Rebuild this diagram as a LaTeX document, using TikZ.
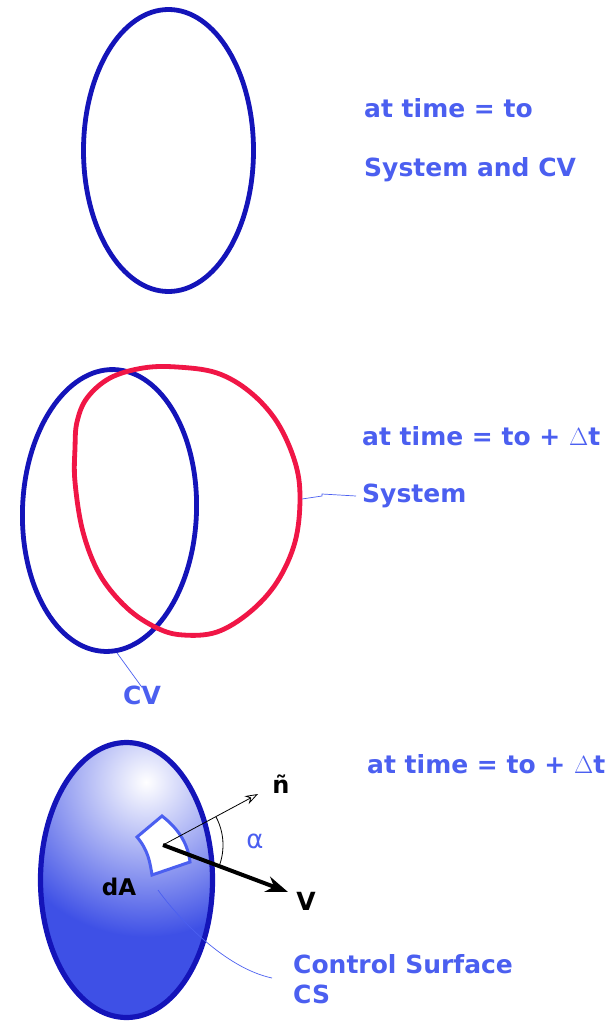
\documentclass[tikz,border=0pt]{standalone}
\usepackage{fontspec}
\setmainfont{DejaVu Sans}
\usetikzlibrary{arrows.meta,positioning,calc,shapes.geometric}
\definecolor{cvblue}{RGB}{20,20,185}
\definecolor{sysred}{RGB}{240,22,70}
\definecolor{lblblue}{RGB}{75,95,240}
\definecolor{fillblue}{RGB}{62,80,230}

\begin{document}
\begin{tikzpicture}[x=1pt, y=-1pt,
    bound/.style={ellipse, draw=cvblue, line width=4.8pt, inner sep=0pt, minimum width=170pt, minimum height=282pt},
    lbl/.style={text=lblblue, font=\bfseries\fontsize{25}{30}\selectfont, inner sep=0pt},
    vec/.style={text=black, font=\bfseries\fontsize{23}{28}\selectfont, inner sep=0pt},
    lead/.style={draw=lblblue, line width=0.7pt}
]
\useasboundingbox (0,0) rectangle (614,1025);

% t = to
\node[bound] (sc0) at (168.5,150.5) {};
\node[lbl, anchor=west] (t0) at (364,108) {at time = to};
\node[lbl, below=62pt of t0.west, anchor=west] (both) {System and CV};

% t = to + dt
\node[bound, minimum width=174pt, minimum height=282pt, rotate=-2] (cv) at (109.5,510.5) {};
\draw[sysred, line width=4.8pt] plot[smooth cycle, tension=0.6] coordinates {
    (77,422) (87,398) (110,378) (143,368) (177,367) (217,373) (250,392)
    (277,422) (295,462) (300,498) (295,542) (277,582) (250,612) (217,632)
    (183,635) (157,628) (127,608) (100,575) (83,532) (75,482) (75,448)};
\coordinate (sysp) at (302,499);
\node[lbl, anchor=west] (t1) at (362,436) {at time = to + $\Delta$t};
\node[lbl, anchor=west] (syslbl) at (362,496) {System};
\draw[lead] (sysp) -- (syslbl.west -| 322,0) -- ++(0,-2) -- ([xshift=-6pt]syslbl.west);
\node[lbl] (cvlbl) at (142,695) {CV};
\draw[lead] (cv.-85) -- ([yshift=-2pt]cvlbl.north);

% control surface
\begin{scope}
  \clip (126.5,880) ellipse [x radius=86, y radius=137.5];
  \fill[fillblue] (126.5,880) ellipse [x radius=86, y radius=137.5];
  \shade[inner color=white, outer color=fillblue] (146,782) circle [radius=155];
\end{scope}
\node[bound, line width=5.2pt, minimum width=172pt, minimum height=275pt] (cs) at (126.5,880) {};
\draw[lblblue, line width=3pt, fill=white, line join=miter]
    (137,837) -- (162,816) .. controls (180,830) and (188,845) .. (190,862)
    -- (152,875) .. controls (150,862) and (148,850) .. cycle;
\coordinate (o) at (163,845);
\coordinate (ntip) at (258,794);
\coordinate (vtip) at (288,892);
\draw[line width=0.8pt, -{Stealth[open, length=13pt, width=9pt]}] (o) -- (ntip);
\draw[line width=4pt, -{Stealth[length=22pt, width=16pt]}] (o) -- (vtip);
\draw[line width=0.8pt] ($(o)+(-28:60)$) arc[start angle=-28, end angle=20, radius=60];
\node[text=lblblue, font=\fontsize{26}{30}\selectfont, inner sep=0pt] (alpha) at (255,841) {α};
\node[vec, font=\bfseries\fontsize{24}{28}\selectfont] (nlbl) at (281,784) {ñ};
\node[vec, font=\bfseries\fontsize{25}{30}\selectfont] (vlbl) at (306,901) {V};
\node[vec] (dA) at (119,887) {dA};
\node[lbl, anchor=west] (t2) at (367,764) {at time = to + $\Delta$t};
\node[lbl, anchor=west, align=left] (cslbl) at (293,979) {Control Surface\\CS};
\coordinate (csp) at (158,890);
\draw[lead] (csp) .. controls (178,918) and (225,968) .. ([xshift=-21pt,yshift=1pt]cslbl.west);

\end{tikzpicture}
\end{document}
